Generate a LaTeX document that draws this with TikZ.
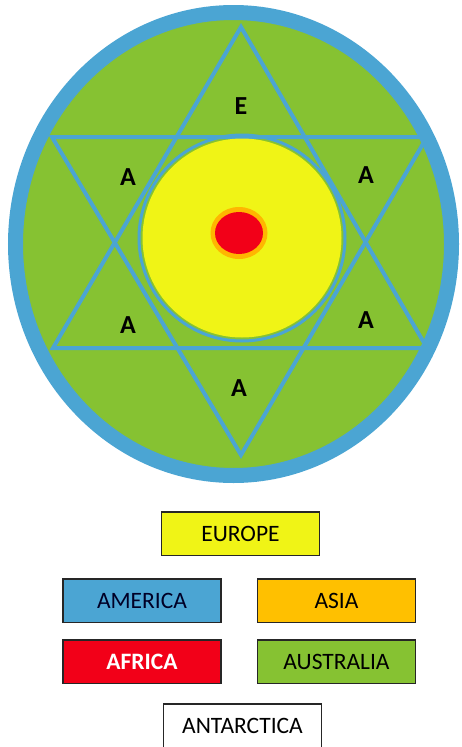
\documentclass[tikz,border=0pt]{standalone}
\usepackage{fontspec}
\setmainfont{Carlito}
\usepackage{tikz}
\usetikzlibrary{positioning}
\usepackage{xcolor}
\definecolor{america}{HTML}{4BA5D3}
\definecolor{europe}{HTML}{F0F416}
\definecolor{asia}{HTML}{FFC000}
\definecolor{africa}{HTML}{F20018}
\definecolor{australia}{HTML}{86C232}
\definecolor{edge}{HTML}{262626}
\tikzset{
  legbox/.style={draw=edge, line width=1.5pt, minimum width=158pt, minimum height=43.5pt,
              inner sep=0pt, font=\fontsize{23.5}{26}\selectfont},
  letter/.style={font=\fontsize{26}{28}\selectfont\bfseries, inner sep=0pt},
  starline/.style={draw=america, line width=4pt, line join=miter},
}
\begin{document}
\begin{tikzpicture}[x=1pt,y=-1pt]
\useasboundingbox (0,0) rectangle (461,747);
% the globe
\draw[america, line width=15pt, fill=australia] (233.5,244) ellipse [x radius=218pt, y radius=231.5pt];
% star of two triangles
\coordinate (up) at (241,27);
\coordinate (upl) at (53,348);
\coordinate (upr) at (427,348);
\coordinate (dn) at (241,455);
\coordinate (dnl) at (52,137);
\coordinate (dnr) at (427,137);
\path[starline] (up) -- (upl) -- (upr) -- cycle;
\path[starline] (dnl) -- (dnr) -- (dn) -- cycle;
% centre
\draw[america, line width=3pt] (242,238) circle (103pt);
\fill[europe] (242,238) circle (99.5pt);
\fill[asia!85!orange] (239,233) ellipse [x radius=28.5pt, y radius=26pt];
\fill[africa] (239,233) ellipse [x radius=24pt, y radius=21pt];
% points of the star
\node[letter] (pe)  at (241,106) {E};
\node[letter] (pa1) at (128,177) {A};
\node[letter] (pa2) at (366,175) {A};
\node[letter] (pa3) at (128,325) {A};
\node[letter] (pa4) at (366,320) {A};
\node[letter] (pa5) at (239,388) {A};
% key
\node[legbox, fill=europe] (keyeu) at (240.5,533.5) {EUROPE};
\node[legbox, fill=america, text=black!85!blue] (keyam) at (142,600.5) {AMERICA};
\node[legbox, fill=asia] (keyas) at (336.5,600.5) {ASIA};
\node[legbox, fill=africa, text=white, font=\fontsize{23.5}{26}\selectfont\bfseries] (keyaf) at (142,661.5) {AFRICA};
\node[legbox, fill=australia] (keyau) at (336.5,661.5) {AUSTRALIA};
\node[legbox, fill=white] (keyan) at (242.5,725.5) {ANTARCTICA};
\end{tikzpicture}
\end{document}
